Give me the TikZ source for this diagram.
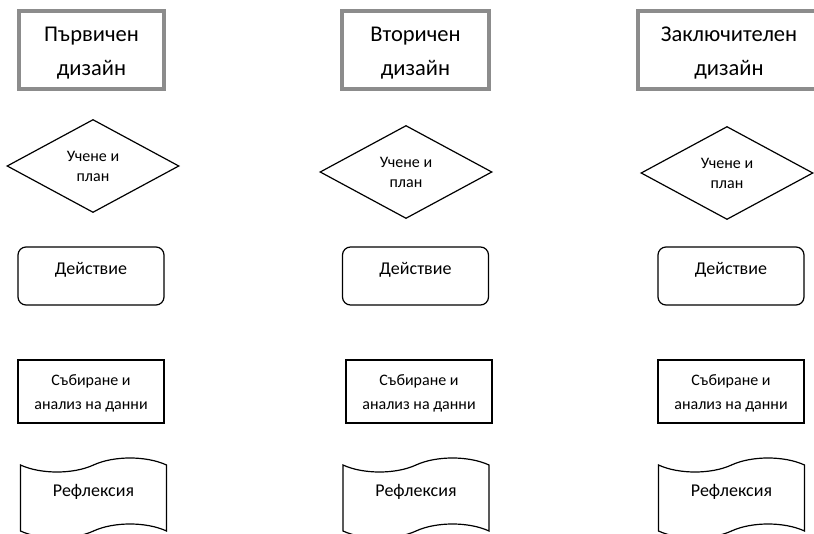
\documentclass[tikz,border=0pt]{standalone}
\usepackage{fontspec}
\setmainfont{Carlito}
\usetikzlibrary{shapes.geometric,shapes.symbols}
\definecolor{titlegray}{HTML}{8C8C8C}
\begin{document}
\begin{tikzpicture}[x=1pt,y=-1pt,
  titlebox/.style={draw=titlegray, line width=4pt, rectangle, minimum height=78pt, inner sep=0pt},
  titletext/.style={inner sep=0pt, align=center, font=\fontsize{22.5}{34}\selectfont},
  decision/.style={diamond, draw, line width=1.2pt, minimum width=172pt, minimum height=93pt, inner sep=0pt, align=center, font=\fontsize{16}{20}\selectfont},
  actionbox/.style={rectangle, draw, line width=1.2pt, rounded corners=8pt, minimum width=146pt, minimum height=58pt, inner sep=0pt},
  databox/.style={rectangle, draw, line width=1.2pt, minimum width=146pt, minimum height=63pt, inner sep=0pt},
  datatext/.style={inner sep=0pt, align=center, font=\fontsize{16}{24}\selectfont},
  tapebox/.style={tape, draw, line width=1.2pt, minimum width=146pt, minimum height=80pt, inner sep=0pt, tape bend height=14pt},
  lbl/.style={inner sep=0pt, font=\fontsize{18}{22}\selectfont}
]
\useasboundingbox (0,0) rectangle (814,534);
\clip (0,0) rectangle (814,534);
% column 1
\node[titlebox, minimum width=145pt] (t1) at (91.5,50) {};
\node[titletext] (t1t) at (91.5,53) {Първичен\\дизайн};
\node[decision] (d1) at (93,166) {Учене и\\план};
\node[actionbox] (a1) at (91,276) {};
\node[lbl] (a1t) at (91,270) {Действие};
\node[databox] (s1) at (91,391.5) {};
\node[datatext] (s1t) at (91,393) {Събиране и\\анализ на данни};
\node[tapebox] (r1) at (93.5,498) {};
\node[lbl] (r1t) at (93.5,492) {Рефлексия};
% column 2
\node[titlebox, minimum width=147pt] (t2) at (415.5,50) {};
\node[titletext] (t2t) at (415.5,53) {Вторичен\\дизайн};
\node[decision] (d2) at (406,172) {Учене и\\план};
\node[actionbox] (a2) at (415.5,276) {};
\node[lbl] (a2t) at (415.5,270) {Действие};
\node[databox] (s2) at (419,391.5) {};
\node[datatext] (s2t) at (419,393) {Събиране и\\анализ на данни};
\node[tapebox] (r2) at (416,498) {};
\node[lbl] (r2t) at (416,492) {Рефлексия};
% column 3
\node[titlebox, minimum width=182pt] (t3) at (729,50) {};
\node[titletext] (t3t) at (729,53) {Заключителен\\дизайн};
\node[decision] (d3) at (727,173) {Учене и\\план};
\node[actionbox] (a3) at (731,276) {};
\node[lbl] (a3t) at (731,270) {Действие};
\node[databox] (s3) at (731,391.5) {};
\node[datatext] (s3t) at (731,393) {Събиране и\\анализ на данни};
\node[tapebox] (r3) at (731.5,498) {};
\node[lbl] (r3t) at (731.5,492) {Рефлексия};
\end{tikzpicture}
\end{document}
